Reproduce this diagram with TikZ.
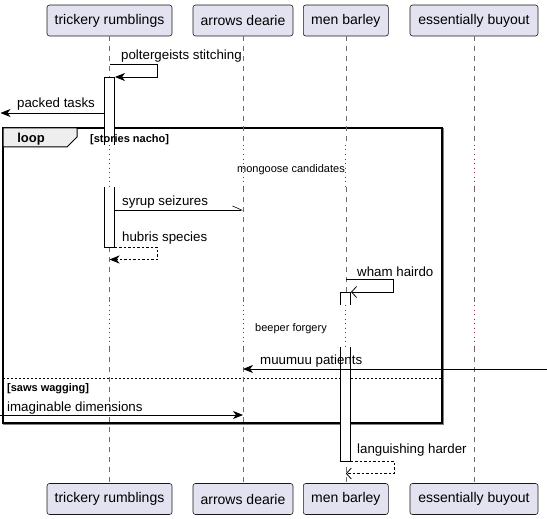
\documentclass[tikz,border=0pt]{standalone}
\usepackage{fontspec}
\setmainfont{Liberation Sans}
\usetikzlibrary{arrows.meta,calc}
\definecolor{partfill}{HTML}{E2E2F0}
\definecolor{partline}{HTML}{181818}
\definecolor{delaydot}{HTML}{8E2055}
\definecolor{tabfill}{HTML}{EEEEEE}
\tikzset{
  part/.style={draw=partline,fill=partfill,rounded corners=2.5pt,minimum height=31pt,inner sep=0pt,line width=0.6pt,font=\fontsize{14}{16}\selectfont},
  life/.style={draw=gray!85!black,dash pattern=on 5pt off 5pt,line width=0.6pt},
  delayline/.style={draw=delaydot,dash pattern=on 1pt off 3.5pt,line width=0.9pt},
  bar/.style={draw=black,line width=0.8pt},
  msg/.style={line width=0.8pt,-{Stealth[length=10pt,width=8pt,inset=3pt]}},
  ret/.style={msg,dash pattern=on 2.5pt off 2pt},
  async/.style={line width=0.8pt,-{Straight Barb[length=5pt,width=11pt,line width=0.8pt]}},
  asyncret/.style={async,dash pattern=on 2.5pt off 2pt},
  half/.style={line width=0.8pt,-{Straight Barb[left,length=9pt,width=8pt,line width=0.6pt]}},
  lbl/.style={anchor=west,inner sep=0pt,yshift=-1.5pt,font=\fontsize{13.3}{15}\selectfont},
  dlbl/.style={inner sep=0pt,yshift=-1.5pt,font=\fontsize{11}{13}\selectfont},
  guard/.style={anchor=west,inner sep=0pt,yshift=-2.5pt,font=\fontsize{11}{13}\selectfont\bfseries}
}
\begin{document}
\begin{tikzpicture}[x=1pt,y=-1pt]
  \useasboundingbox (0,0) rectangle (547,519);
  % participants
  \node[part,minimum width=125pt] (trickT) at (109.5,20.5) {trickery rumblings};
  \node[part,minimum width=100pt] (arrowT) at (243,20.5) {arrows dearie};
  \node[part,minimum width=85pt] (menT) at (345.8,20.5) {men barley};
  \node[part,minimum width=128pt] (essT) at (474,20.5) {essentially buyout};
  \node[part,minimum width=125pt] (trickB) at (109.5,499) {trickery rumblings};
  \node[part,minimum width=100pt] (arrowB) at (243,499) {arrows dearie};
  \node[part,minimum width=85pt] (menB) at (345.8,499) {men barley};
  \node[part,minimum width=128pt] (essB) at (474,499) {essentially buyout};
  % loop frame
  \coordinate (fNW) at (3,128);
  \coordinate (fSE) at (442,423);
  \draw[gray,line width=1.5pt] ($(fNW)+(1.2,1.2)$) rectangle ($(fSE)+(1.2,1.2)$);
  \draw[fill=white,line width=1.2pt] (fNW) rectangle (fSE);
  \draw[fill=tabfill,line width=1pt] (fNW) -- (77,128) -- (77,137) -- (67,147) -- (3,147) -- cycle;
  \coordinate (elseL) at (3,378.5);
  \coordinate (elseR) at (442,378.5);
  \draw[dash pattern=on 2pt off 2pt,line width=0.7pt] (elseL) -- (elseR);
  % lifelines with delays
  \coordinate (d1a) at (0,145);
  \coordinate (d1b) at (0,187);
  \coordinate (d2a) at (0,305);
  \coordinate (d2b) at (0,347);
  \foreach \p in {trick,arrow,men,ess}{
    \draw[life] (\p T.south) -- (\p T.south |- d1a);
    \draw[delayline] (\p T.south |- d1a) -- (\p T.south |- d1b);
    \draw[life] (\p T.south |- d1b) -- (\p T.south |- d2a);
    \draw[delayline] (\p T.south |- d2a) -- (\p T.south |- d2b);
    \draw[life] (\p T.south |- d2b) -- (\p B.north);
  }
  \node[dlbl] (dl1) at (291,168) {mongoose candidates};
  \node[dlbl] (dl2) at (291,327) {beeper forgery};
  % activations
  \fill[white] (104.5,77) rectangle (114.5,145);
  \draw[bar] (104.5,145) -- (104.5,77) -- (114.5,77) -- (114.5,145);
  \fill[white] (104.5,187) rectangle (114.5,247);
  \draw[bar] (104.5,187) -- (104.5,247) -- (114.5,247) -- (114.5,187);
  \fill[white] (340.8,292) rectangle (350.8,305);
  \draw[bar] (340.8,305) -- (340.8,292) -- (350.8,292) -- (350.8,305);
  \fill[white] (340.8,347) rectangle (350.8,461);
  \draw[bar] (340.8,347) -- (340.8,461) -- (350.8,461) -- (350.8,347);
  % frame labels
  \node[font=\fontsize{13}{15}\selectfont\bfseries,inner sep=0pt] (loopT) at (31,139.5) {loop};
  \node[guard] (g1) at (90,137) {[stories nacho]};
  \node[guard] (g2) at (7,386) {[saws wagging]};
  % messages
  \coordinate (m1a) at (109.5,64);
  \coordinate (m1b) at (157,64);
  \coordinate (m1c) at (157,77);
  \coordinate (m1d) at (115,77);
  \draw[msg] (m1a) -- (m1b) -- (m1c) -- (m1d);
  \node[lbl] (l1) at (121,55) {poltergeists stitching};
  \coordinate (m2a) at (104.5,113);
  \coordinate (m2b) at (0.5,113);
  \draw[msg] (m2a) -- (m2b);
  \node[lbl] (l2) at (17,103) {packed tasks};
  \coordinate (m3a) at (114.5,210);
  \coordinate (m3b) at (243,210);
  \draw[half] (m3a) -- (m3b);
  \node[lbl] (l3) at (122,201) {syrup seizures};
  \coordinate (m4a) at (114.5,247);
  \coordinate (m4b) at (157,247);
  \coordinate (m4c) at (157,259.5);
  \coordinate (m4d) at (109.5,259.5);
  \draw[ret] (m4a) -- (m4b) -- (m4c) -- (m4d);
  \node[lbl] (l4) at (122,237) {hubris species};
  \coordinate (m5a) at (345.8,279.5);
  \coordinate (m5b) at (393,279.5);
  \coordinate (m5c) at (393,292);
  \coordinate (m5d) at (351,292);
  \draw[async] (m5a) -- (m5b) -- (m5c) -- (m5d);
  \node[lbl] (l5) at (357,270) {wham hairdo};
  \coordinate (m6a) at (547,369);
  \coordinate (m6b) at (243,369);
  \draw[msg] (m6a) -- (m6b);
  \node[lbl] (l6) at (260,360) {muumuu patients};
  \coordinate (m7a) at (0,415);
  \coordinate (m7b) at (243,415);
  \draw[msg] (m7a) -- (m7b);
  \node[lbl] (l7) at (7,407) {imaginable dimensions};
  \coordinate (m8a) at (350.8,461);
  \coordinate (m8b) at (394,461);
  \coordinate (m8c) at (394,473.5);
  \coordinate (m8d) at (345.8,473.5);
  \draw[asyncret] (m8a) -- (m8b) -- (m8c) -- (m8d);
  \node[lbl] (l8) at (357,449) {languishing harder};
\end{tikzpicture}
\end{document}
